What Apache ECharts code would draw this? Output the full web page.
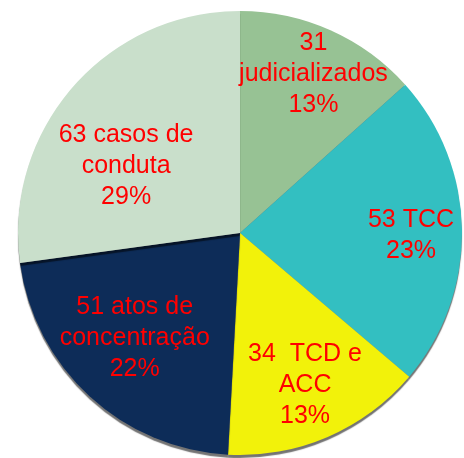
<!DOCTYPE html>
<html>
<head>
<meta charset="utf-8">
<script src="https://cdn.jsdelivr.net/npm/echarts@6/dist/echarts.min.js"></script>
<style>html,body{margin:0;padding:0;background:#fff;}#c{width:464px;height:458px;}</style>
</head>
<body>
<div id="c"></div>
<script>
const categories = ['judicializados', 'TCC', 'TCD e ACC', 'atos de concentração', 'casos de conduta'];
const values = [31, 53, 34, 51, 63];
const percentLabels = ['13%', '23%', '13%', '22%', '29%'];
const labelTexts = ['31\njudicializados\n13%', '53 TCC\n23%', '34  TCD e\nACC\n13%', '51 atos de\nconcentração\n22%', '63 casos de\nconduta\n29%'];

const colors = ['#97c294', '#33bfc1', '#f2f20a', '#0d2c58', '#c9dfcb'];
const labelOffsets = [[27, -55], [57, 4], [20, 47], [-28, 21], [-28, 8]];

const chart = echarts.init(document.getElementById('c'));
chart.setOption({
  animation: false,
  series: [{
    type: 'pie',
    center: [240, 233],
    radius: 222,
    startAngle: 90,
    clockwise: true,
    avoidLabelOverlap: false,
    labelLine: { show: false },
    itemStyle: {
      borderWidth: 0,
      shadowColor: 'rgba(0,0,0,0.55)',
      shadowOffsetY: 3,
      shadowBlur: 1
    },
    data: categories.map((name, i) => ({
      name: name,
      value: values[i],
      itemStyle: { color: colors[i] },
      label: {
        show: true,
        position: 'inside',
        formatter: labelTexts[i],
        color: '#ff0000',
        fontFamily: 'Liberation Sans, Arial, sans-serif',
        fontSize: 25,
        lineHeight: 31,
        align: 'center',
        offset: labelOffsets[i]
      }
    }))
  }]
});
</script>
</body>
</html>
